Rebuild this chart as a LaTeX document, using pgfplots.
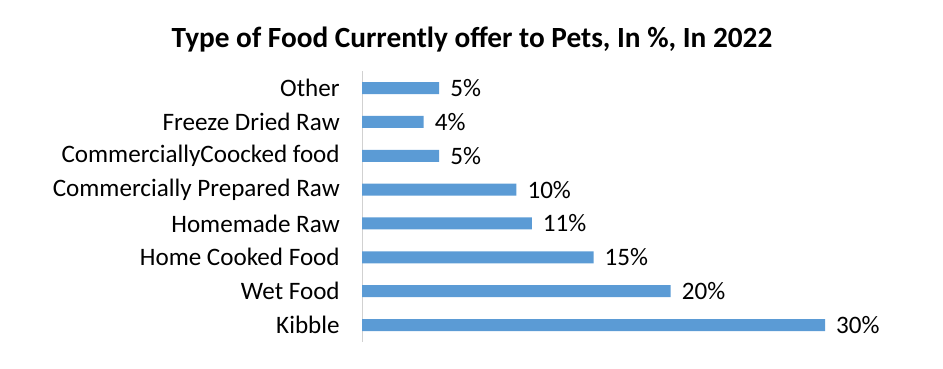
\documentclass[border=0pt]{standalone}
\usepackage{fontspec}
\setmainfont{Carlito}
\usepackage{pgfplots}
\pgfplotsset{compat=1.18}
\begin{document}
\begin{tikzpicture}
\path[use as bounding box] (0,0) rectangle (943bp,369bp);
\node[anchor=base, font=\bfseries\fontsize{29.4}{34}\selectfont] at (472bp,321bp) {Type of Food Currently offer to Pets, In \%, In 2022};
\begin{axis}[
  at={(362bp,27bp)}, anchor=south west,
  scale only axis, width=463bp, height=270.9bp,
  xmin=0, xmax=30, ymin=-0.5, ymax=7.5,
  xbar, bar width=12bp,
  axis lines=left,
  x axis line style={draw=none},
  y axis line style={-, draw=black!18, line width=0.8pt},
  xtick=\empty,
  ytick={0,...,7},
  yticklabels={Kibble, Wet Food, Home Cooked Food, Homemade Raw, Commercially Prepared Raw, CommerciallyCoocked food, Freeze Dried Raw\hspace{11bp}, Other},
  ytick style={draw=none},
  yticklabel style={font=\fontsize{25.2}{29}\selectfont, inner sep=0pt, xshift=-20bp, text=black},
  clip=false,
  /pgf/number format/assume math mode=true,
  nodes near coords={\pgfmathprintnumber{\pgfplotspointmeta}\%},
  nodes near coords style={font=\fontsize{25.2}{29}\selectfont, anchor=west, inner sep=0pt, xshift=11bp, text=black},
  point meta=x,
]
\addplot[fill={rgb,255:red,91;green,155;blue,213}, draw=none] coordinates {
  (30,0) (20,1) (15,2) (11,3) (10,4) (5,5) (4,6) (5,7)
};
\end{axis}
\end{tikzpicture}
\end{document}
